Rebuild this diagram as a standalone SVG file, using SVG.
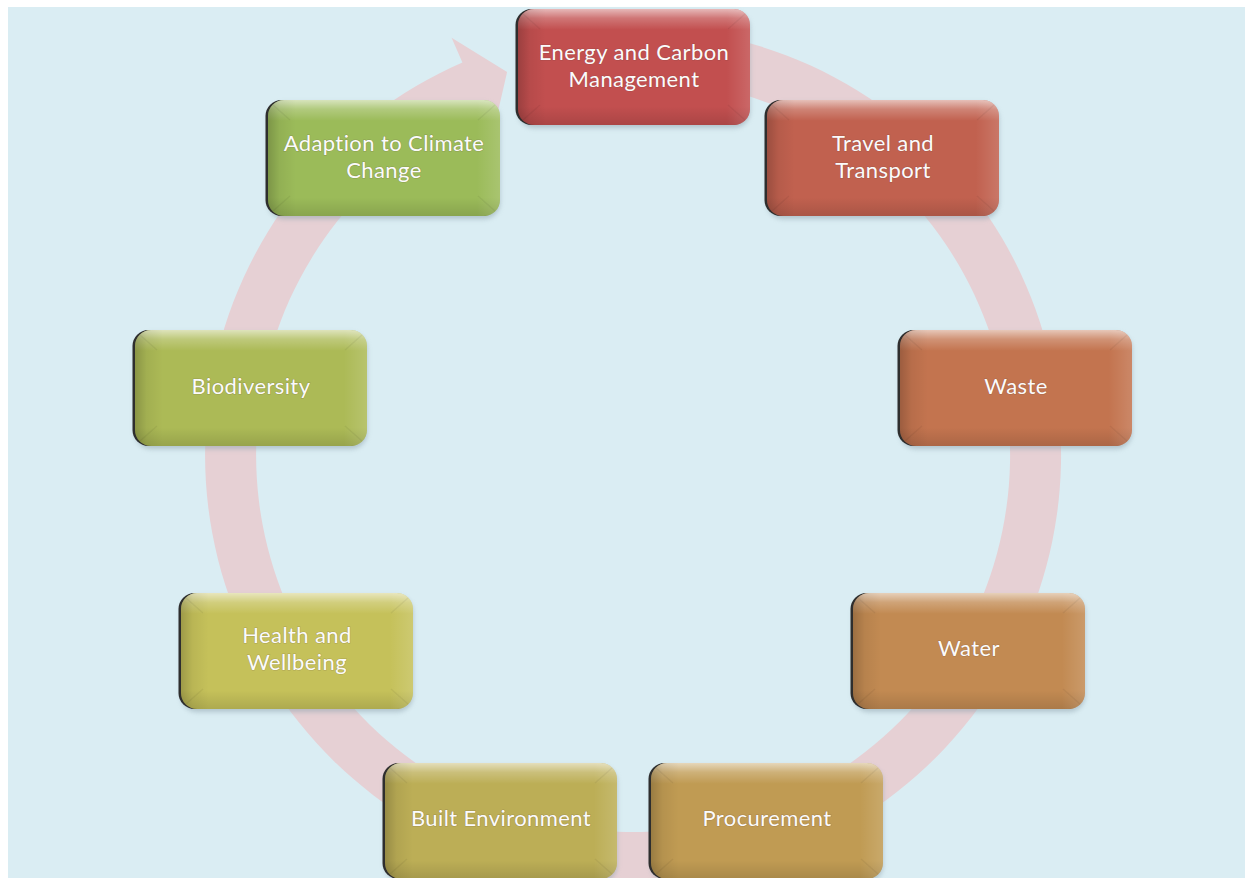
<svg xmlns="http://www.w3.org/2000/svg" width="1245" height="878" viewBox="0 0 1245 878">
  <style>
    .edge { fill: #2e2e2e; }
    .glow { fill: #8fa3ad; opacity: 0.55; }
    .bevv { fill: url(#bevV); }
    .bevh { fill: url(#bevH); }
    .facet { fill: none; stroke: #000; stroke-opacity: 0.05; stroke-width: 1.5; }
    .label { font-family: Lato, "Liberation Sans", sans-serif; font-size: 22px; letter-spacing: 0.4px; fill: #fbfbfb; text-anchor: middle;
             stroke: #5a3a3a; stroke-opacity: 0.25; stroke-width: 1.2; paint-order: stroke; }
  </style>
  <defs>
    <linearGradient id="bevV" x1="0" y1="0" x2="0" y2="1">
      <stop offset="0" stop-color="#fff" stop-opacity="0.6"/>
      <stop offset="0.08" stop-color="#fff" stop-opacity="0.22"/>
      <stop offset="0.18" stop-color="#fff" stop-opacity="0"/>
      <stop offset="0.84" stop-color="#000" stop-opacity="0"/>
      <stop offset="1" stop-color="#000" stop-opacity="0.12"/>
    </linearGradient>
    <linearGradient id="bevH" x1="0" y1="0" x2="1" y2="0">
      <stop offset="0" stop-color="#000" stop-opacity="0.2"/>
      <stop offset="0.05" stop-color="#000" stop-opacity="0.06"/>
      <stop offset="0.12" stop-color="#000" stop-opacity="0"/>
      <stop offset="0.9" stop-color="#fff" stop-opacity="0"/>
      <stop offset="1" stop-color="#fff" stop-opacity="0.14"/>
    </linearGradient>
    <filter id="soft" x="-10%" y="-10%" width="120%" height="130%">
      <feGaussianBlur stdDeviation="2.5"/>
    </filter>
    <!-- one bevelled tile; colour is set per node -->
    <g id="tile">
      <rect class="glow" x="0" y="3" width="232" height="116" rx="16" filter="url(#soft)"/>
      <rect class="edge" x="-2.5" y="0" width="232" height="116" rx="16"/>
    </g>
    <g id="bevel">
      <rect class="bevv" x="0" y="0" width="232" height="116" rx="16"/>
      <rect class="bevh" x="0" y="0" width="232" height="116" rx="16"/>
      <path class="facet" d="M5 5 L22 20 M227 5 L210 20 M5 111 L22 96 M227 111 L210 96"/>
    </g>
  </defs>

  <!-- page background -->
  <rect x="8" y="7" width="1237" height="871" fill="#daedf3"/>

  <!-- circular arrow running clockwise behind the tiles -->
  <g id="connectors">
    <path d="M 633 27 A 428 428 0 1 1 462.4 62.5 L 451.6 37.7 L 507.1 72.1 L 493.1 133.1 L 482.7 109.3 A 377 377 0 1 0 633 78 Z" fill="#e6d0d4"/>
  </g>

  <g id="n-energy" transform="translate(518,9)">
    <use href="#tile"/>
    <rect x="0" y="0" width="232" height="116" rx="16" fill="#c24f4f"/>
    <use href="#bevel"/>
    <text class="label" x="116" y="51">Energy and Carbon</text>
    <text class="label" x="116" y="78">Management</text>
  </g>

  <g id="n-travel" transform="translate(767,100)">
    <use href="#tile"/>
    <rect x="0" y="0" width="232" height="116" rx="16" fill="#c1614f"/>
    <use href="#bevel"/>
    <text class="label" x="116" y="51">Travel and</text>
    <text class="label" x="116" y="78">Transport</text>
  </g>

  <g id="n-waste" transform="translate(900,330)">
    <use href="#tile"/>
    <rect x="0" y="0" width="232" height="116" rx="16" fill="#c3744f"/>
    <use href="#bevel"/>
    <text class="label" x="116" y="64">Waste</text>
  </g>

  <g id="n-water" transform="translate(853,593)">
    <use href="#tile"/>
    <rect x="0" y="0" width="232" height="116" rx="16" fill="#c28a52"/>
    <use href="#bevel"/>
    <text class="label" x="116" y="63">Water</text>
  </g>

  <g id="n-procurement" transform="translate(651,763)">
    <use href="#tile"/>
    <rect x="0" y="0" width="232" height="116" rx="16" fill="#c09b53"/>
    <use href="#bevel"/>
    <text class="label" x="116" y="63">Procurement</text>
  </g>

  <g id="n-built" transform="translate(385,763)">
    <use href="#tile"/>
    <rect x="0" y="0" width="232" height="116" rx="16" fill="#bcae56"/>
    <use href="#bevel"/>
    <text class="label" x="116" y="63">Built Environment</text>
  </g>

  <g id="n-health" transform="translate(181,593)">
    <use href="#tile"/>
    <rect x="0" y="0" width="232" height="116" rx="16" fill="#c5c15a"/>
    <use href="#bevel"/>
    <text class="label" x="116" y="50">Health and</text>
    <text class="label" x="116" y="77">Wellbeing</text>
  </g>

  <g id="n-biodiversity" transform="translate(135,330)">
    <use href="#tile"/>
    <rect x="0" y="0" width="232" height="116" rx="16" fill="#acba56"/>
    <use href="#bevel"/>
    <text class="label" x="116" y="64">Biodiversity</text>
  </g>

  <g id="n-adaption" transform="translate(268,100)">
    <use href="#tile"/>
    <rect x="0" y="0" width="232" height="116" rx="16" fill="#9bbb59"/>
    <use href="#bevel"/>
    <text class="label" x="116" y="51">Adaption to Climate</text>
    <text class="label" x="116" y="78">Change</text>
  </g>
</svg>
